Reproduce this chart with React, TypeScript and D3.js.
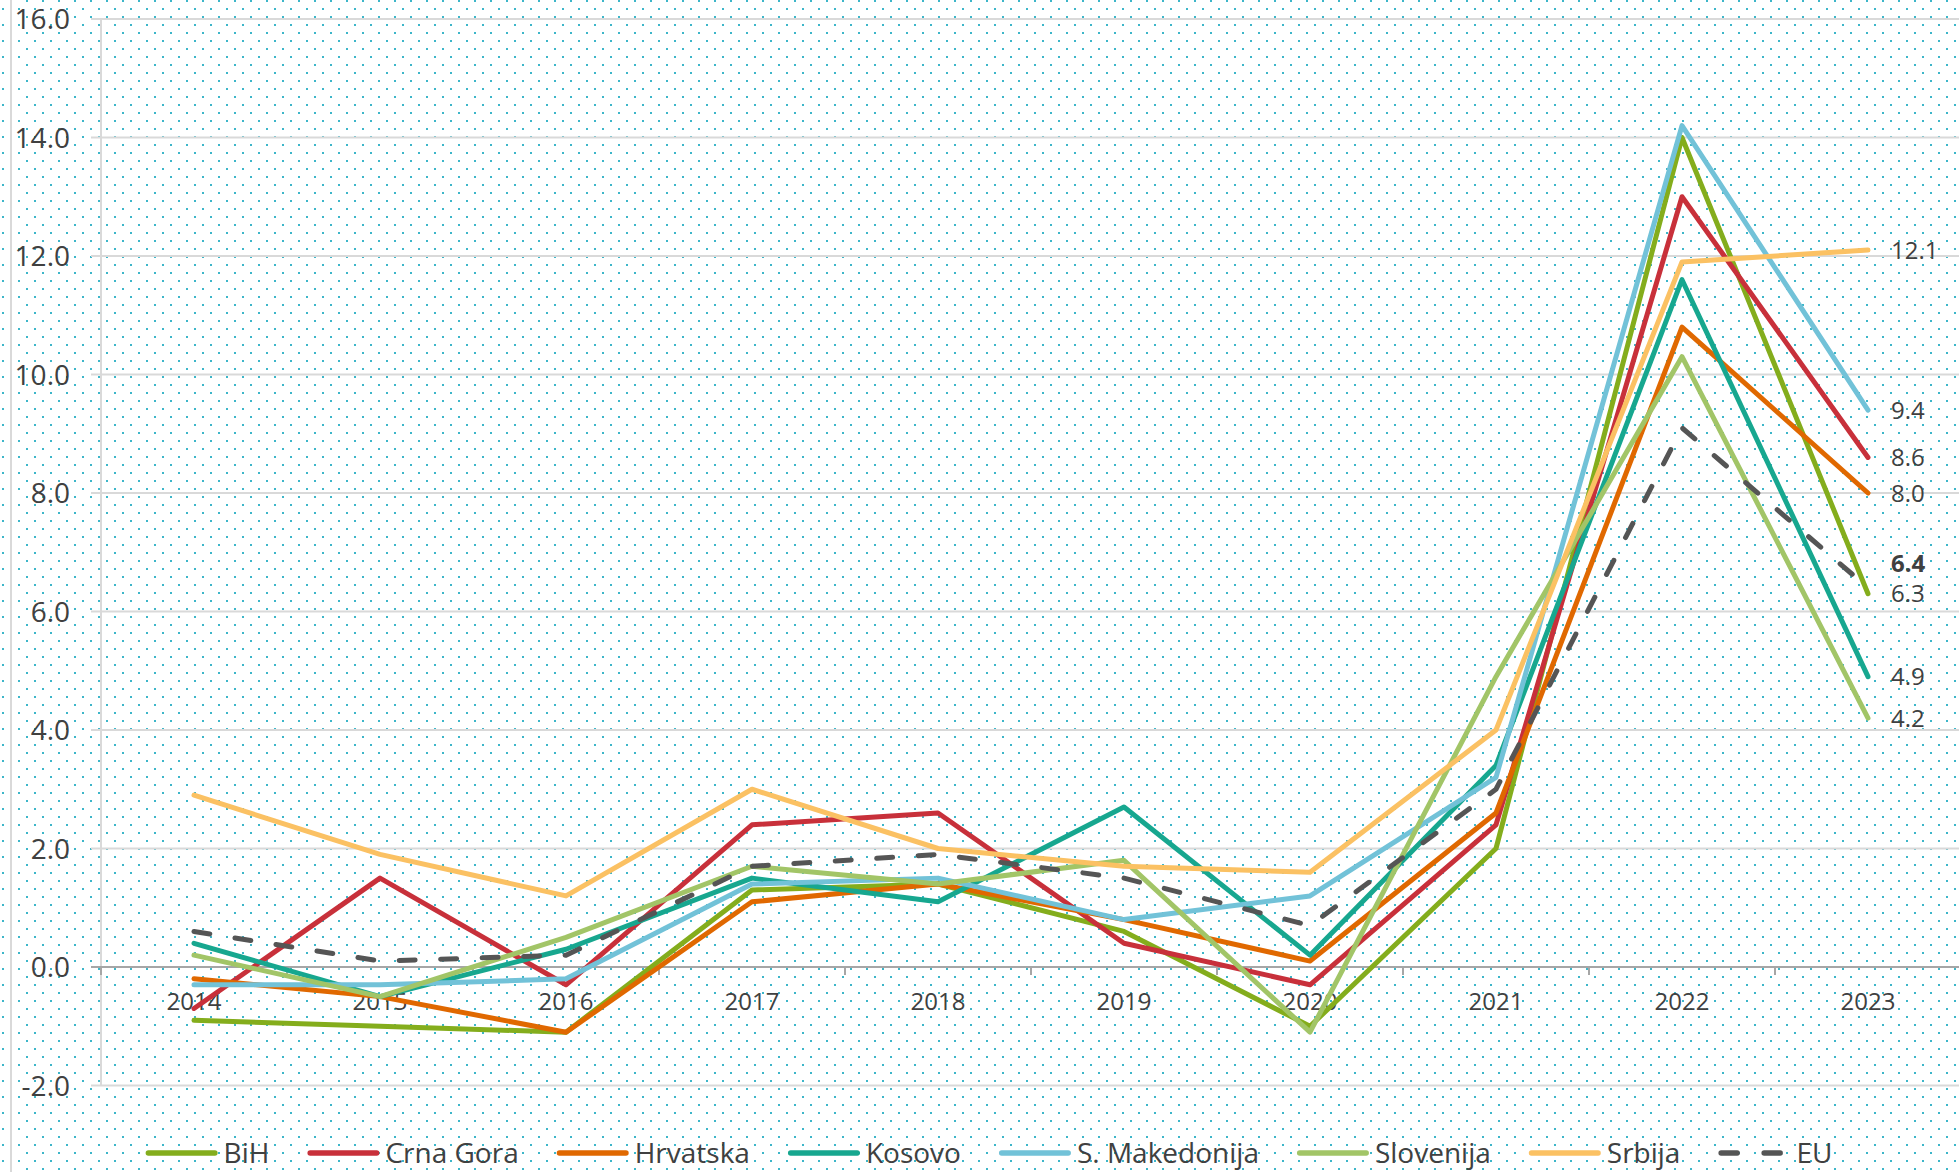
import React from "react";
import * as d3 from "d3";

const years = ["2014", "2015", "2016", "2017", "2018", "2019", "2020", "2021", "2022", "2023"];
const yTicks = [-2, 0, 2, 4, 6, 8, 10, 12, 14, 16];

const seriesNames = ["BiH", "Crna Gora", "Hrvatska", "Kosovo", "S. Makedonija", "Slovenija", "Srbija", "EU"];
const seriesColors = ["#84ad1c", "#c8303a", "#e06800", "#17a78f", "#72c2d8", "#a2c567", "#fbc163", "#555555"];

const bih = [-0.9, -1.0, -1.1, 1.3, 1.4, 0.6, -1.0, 2.0, 14.0, 6.3];
const crnaGora = [-0.7, 1.5, -0.3, 2.4, 2.6, 0.4, -0.3, 2.4, 13.0, 8.6];
const hrvatska = [-0.2, -0.5, -1.1, 1.1, 1.4, 0.8, 0.1, 2.6, 10.8, 8.0];
const kosovo = [0.4, -0.5, 0.3, 1.5, 1.1, 2.7, 0.2, 3.4, 11.6, 4.9];
const sMakedonija = [-0.3, -0.3, -0.2, 1.4, 1.5, 0.8, 1.2, 3.2, 14.2, 9.4];
const slovenija = [0.2, -0.5, 0.5, 1.7, 1.4, 1.8, -1.1, 4.9, 10.3, 4.2];
const srbija = [2.9, 1.9, 1.2, 3.0, 2.0, 1.7, 1.6, 4.0, 11.9, 12.1];
const eu = [0.6, 0.1, 0.2, 1.7, 1.9, 1.5, 0.7, 3.0, 9.1, 6.4];

const seriesValues = [bih, crnaGora, hrvatska, kosovo, sMakedonija, slovenija, srbija, eu];

const W = 1959;
const H = 1172;
const FONT = "'Open Sans', 'DejaVu Sans', sans-serif";
const TEXT = "#404040";

let ctx: CanvasRenderingContext2D | null = null;
function measure(text: string, size: number, weight = "normal") {
  if (!ctx) {
    const c = document.createElement("canvas");
    ctx = c.getContext("2d");
  }
  if (!ctx) return text.length * size * 0.5;
  ctx.font = `${weight} ${size}px 'Open Sans'`;
  return ctx.measureText(text).width;
}

export default function App() {
  const x = d3.scaleBand<string>().domain(years).range([101, 1961]);
  const y = d3.scaleLinear().domain([-2, 16]).range([1085.5, 19]);
  const cx = (yr: string) => (x(yr) as number) + x.bandwidth() / 2;

  const line = d3
    .line<number>()
    .x((_, i) => cx(years[i]))
    .y((v) => y(v));

  // end labels with simple collision avoidance
  const last = years.length - 1;
  const labels = seriesValues
    .map((vals, i) => ({ i, v: vals[last], y: y(vals[last]) }))
    .sort((a, b) => b.y - a.y);
  let prev = Infinity;
  labels.forEach((l) => {
    if (l.y > prev - 30) l.y = prev - 30;
    prev = l.y;
  });

  // legend layout
  const legendFont = 28;
  const lineLen = 72;
  const textGap = 6;
  const itemGap = 38;
  const widths = seriesNames.map((n) => measure(n, legendFont));
  const total =
    widths.reduce((a, b) => a + b, 0) + seriesNames.length * (lineLen + textGap) + (seriesNames.length - 1) * itemGap;
  let lx = 989 - total / 2;
  const legendItems = seriesNames.map((n, i) => {
    const item = { n, i, x: lx };
    lx += lineLen + textGap + widths[i] + itemGap;
    return item;
  });
  const legendY = 1153;

  return (
    <svg
      width={W}
      height={H}
      style={{ position: "absolute", left: 0, top: 0, display: "block" }}
      fontFamily={FONT}
    >
      <defs>
        <pattern id="dots" width={16} height={16} patternUnits="userSpaceOnUse">
          <rect x={10} y={0} width={2} height={2} fill="#3cb6c9" />
          <rect x={2} y={8} width={2} height={2} fill="#3cb6c9" />
        </pattern>
      </defs>
      <rect x={0} y={0} width={W} height={H} fill="#ffffff" />
      <rect x={0} y={0} width={W} height={H} fill="url(#dots)" />
      <line x1={11} x2={11} y1={0} y2={H} stroke="#d9d9d9" strokeWidth={2} />

      {/* gridlines */}
      {yTicks
        .filter((t) => t !== 0)
        .map((t) => (
          <line key={t} x1={91} x2={1961} y1={y(t)} y2={y(t)} stroke="#d9d9d9" strokeWidth={2} />
        ))}
      {/* y axis */}
      <line x1={101} x2={101} y1={y(16)} y2={y(-2)} stroke="#d9d9d9" strokeWidth={2} />
      {/* zero axis */}
      <line x1={91} x2={1961} y1={y(0)} y2={y(0)} stroke="#a6a6a6" strokeWidth={2} />
      {years.map((yr) => (
        <line key={yr} x1={x(yr)} x2={x(yr)} y1={y(0)} y2={y(0) + 8} stroke="#a6a6a6" strokeWidth={2} />
      ))}
      <line x1={1960} x2={1960} y1={y(0)} y2={y(0) + 8} stroke="#a6a6a6" strokeWidth={2} />

      {/* y labels */}
      {yTicks.map((t) => (
        <text key={t} x={70} y={y(t) + 10} textAnchor="end" fontSize={28} fill={TEXT}>
          {t.toFixed(1)}
        </text>
      ))}

      {/* x labels */}
      {years.map((yr) => (
        <text key={yr} x={cx(yr)} y={1010} textAnchor="middle" fontSize={24} fill={TEXT}>
          {yr}
        </text>
      ))}

      {/* series */}
      {seriesValues.map((vals, i) => (
        <path
          key={seriesNames[i]}
          d={line(vals) as string}
          fill="none"
          stroke={seriesColors[i]}
          strokeWidth={5}
          strokeLinecap="round"
          strokeLinejoin="round"
          strokeDasharray={seriesNames[i] === "EU" ? "16 25.5" : undefined}
        />
      ))}

      {/* end labels */}
      {labels.map((l) => (
        <text
          key={l.i}
          x={1891}
          y={l.y + 8.5}
          fontSize={24}
          fill={TEXT}
          fontWeight={seriesNames[l.i] === "EU" ? "bold" : "normal"}
        >
          {l.v.toFixed(1)}
        </text>
      ))}

      {/* legend */}
      {legendItems.map((it) => (
        <g key={it.n}>
          <line
            x1={it.x + 2.75}
            x2={it.x + lineLen - 2.75}
            y1={legendY}
            y2={legendY}
            stroke={seriesColors[it.i]}
            strokeWidth={5.5}
            strokeLinecap="round"
            strokeDasharray={it.n === "EU" ? "16 27" : undefined}
          />
          <text x={it.x + lineLen + textGap} y={legendY + 10} fontSize={legendFont} fill={TEXT}>
            {it.n}
          </text>
        </g>
      ))}
    </svg>
  );
}
